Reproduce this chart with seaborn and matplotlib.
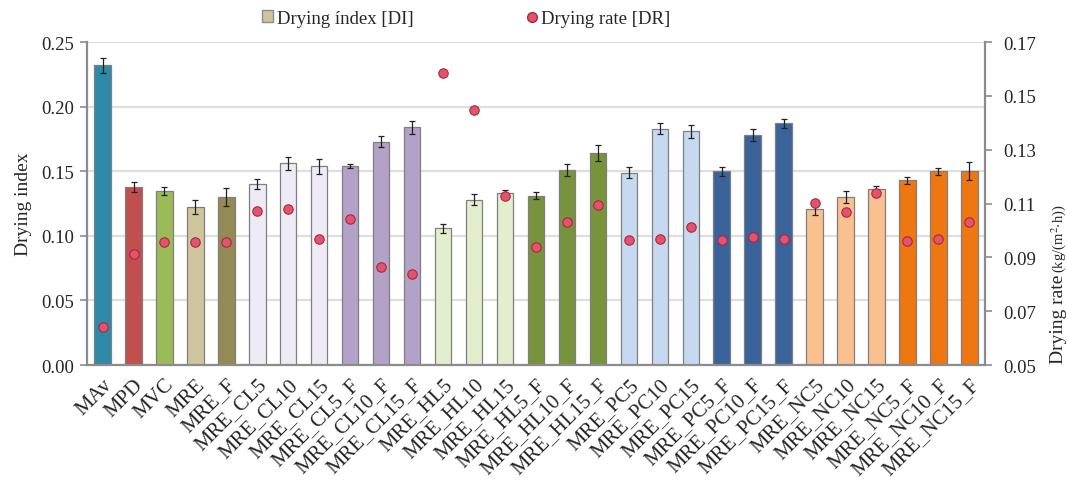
import numpy as np
import matplotlib
matplotlib.use("Agg")
import matplotlib.pyplot as plt
import seaborn as sns
from matplotlib.patches import Patch
from matplotlib.lines import Line2D
from matplotlib.ticker import FormatStrFormatter, FixedLocator

categories = ["MAv", "MPD", "MVC", "MRE", "MRE_F",
              "MRE_CL5", "MRE_CL10", "MRE_CL15", "MRE_CL5_F", "MRE_CL10_F", "MRE_CL15_F",
              "MRE_HL5", "MRE_HL10", "MRE_HL15", "MRE_HL5_F", "MRE_HL10_F", "MRE_HL15_F",
              "MRE_PC5", "MRE_PC10", "MRE_PC15", "MRE_PC5_F", "MRE_PC10_F", "MRE_PC15_F",
              "MRE_NC5", "MRE_NC10", "MRE_NC15", "MRE_NC5_F", "MRE_NC10_F", "MRE_NC15_F"]

drying_index = [0.232, 0.138, 0.135, 0.122, 0.130,
                0.140, 0.156, 0.154, 0.154, 0.173, 0.184,
                0.106, 0.128, 0.133, 0.131, 0.151, 0.164,
                0.149, 0.183, 0.181, 0.150, 0.178, 0.187,
                0.121, 0.130, 0.136, 0.143, 0.150, 0.150]

di_error = [0.0058, 0.0039, 0.0031, 0.0054, 0.0070,
            0.0040, 0.0048, 0.0058, 0.0015, 0.0041, 0.0050,
            0.0035, 0.0045, 0.0023, 0.0028, 0.0049, 0.0062,
            0.0046, 0.0043, 0.0049, 0.0035, 0.0045, 0.0037,
            0.0052, 0.0045, 0.0022, 0.0028, 0.0028, 0.0070]

drying_rate = [0.0640, 0.0912, 0.0957, 0.0957, 0.0958,
               0.1073, 0.1078, 0.0967, 0.1042, 0.0863, 0.0838,
               0.1584, 0.1448, 0.1128, 0.0937, 0.1031, 0.1093,
               0.0964, 0.0969, 0.1013, 0.0965, 0.0977, 0.0969,
               0.1102, 0.1067, 0.1139, 0.0962, 0.0969, 0.1032]

left_ticks = [0.00, 0.05, 0.10, 0.15, 0.20, 0.25]
right_ticks = [0.05, 0.07, 0.09, 0.11, 0.13, 0.15, 0.17]

bar_colors = ["#2E8AA8", "#C0504D", "#9BBB59", "#CFC59D", "#948A54",
              "#EEEBF5", "#EEEBF5", "#EEEBF5", "#B3A2C7", "#B3A2C7", "#B3A2C7",
              "#E2EECD", "#E2EECD", "#E2EECD", "#77933C", "#77933C", "#77933C",
              "#C6D9F0", "#C6D9F0", "#C6D9F0", "#3A639A", "#3A639A", "#3A639A",
              "#FAC090", "#FAC090", "#FAC090", "#EE7712", "#EE7712", "#EE7712"]

sns.set_style("white")
plt.rcParams['font.family'] = ['Liberation Serif', 'DejaVu Serif']
plt.rcParams['mathtext.fontset'] = 'stix'

fig = plt.figure(figsize=(10.67, 4.89), dpi=100)
ax = fig.add_axes([0.0816, 0.2515, 0.923 - 0.0816, 0.912 - 0.2515])

n = len(categories)
x = np.arange(n)
sns.barplot(x=categories, y=drying_index, hue=categories, palette=bar_colors,
            legend=False, width=0.53, edgecolor="#7F7F7F", linewidth=0.9,
            saturation=1, ax=ax, zorder=2)
ax.errorbar(x, drying_index, yerr=di_error, fmt="none", ecolor="#222222",
            elinewidth=0.9, capsize=2.2, capthick=0.9, zorder=3)

ax.set_xlim(-0.5, n - 0.5)
ax.set_ylim(0, 0.25)
ax.yaxis.set_major_locator(FixedLocator(left_ticks))
ax.yaxis.set_major_formatter(FormatStrFormatter("%.2f"))
ax.grid(axis="y", color="#DEDEDE", linewidth=1.6, zorder=0)
ax.set_axisbelow(True)

ax.set_xticks(x)
ax.set_xticklabels(categories, rotation=45, ha="right", rotation_mode="anchor", fontsize=15)
ax.xaxis.set_minor_locator(FixedLocator(np.arange(-0.5, n, 1.0)))
ax.tick_params(axis="x", which="major", length=0, pad=7)
ax.tick_params(axis="x", which="minor", length=4, width=1.2, color="#8C8C8C", direction="out")
ax.tick_params(axis="y", which="major", length=5, width=1.2, color="#8C8C8C",
               direction="out", labelsize=13.5, left=True, pad=4)
ax.set_xlabel("")
ax.set_ylabel("Drying index", fontsize=14, labelpad=7)

for side in ["top", "right"]:
    ax.spines[side].set_visible(False)
for side in ["left", "bottom"]:
    ax.spines[side].set_color("#8C8C8C")
    ax.spines[side].set_linewidth(1.6)

ax2 = ax.twinx()
sns.scatterplot(x=x, y=drying_rate, ax=ax2, color="#E2546E", edgecolor="#A8283F",
                linewidth=0.8, s=46, zorder=4, legend=False)
ax2.set_ylim(0.05, 0.17)
ax2.set_xlim(-0.5, n - 0.5)
ax2.yaxis.set_major_locator(FixedLocator(right_ticks))
ax2.yaxis.set_major_formatter(FormatStrFormatter("%.2f"))
ax2.tick_params(axis="y", length=5, width=1.2, color="#8C8C8C", direction="out",
                labelsize=13.5, right=True, pad=8)
ax2.set_ylabel("")
ax2.grid(False)
for side in ["top", "left", "bottom"]:
    ax2.spines[side].set_visible(False)
ax2.spines["right"].set_color("#8C8C8C")
ax2.spines["right"].set_linewidth(1.6)

# right axis label: big text + smaller unit
fig.canvas.draw()
renderer = fig.canvas.get_renderer()
xb = 1063 / 1067
t1 = fig.text(xb, 1 - 364 / 489, "Drying rate", rotation=90, rotation_mode="anchor",
              ha="left", va="baseline", fontsize=14)
bb = t1.get_window_extent(renderer)
y_top = bb.y1 / fig.bbox.height
fig.text(xb, y_top + 0.004, r"(kg/(m$^{2}$$\cdot$h))", rotation=90, rotation_mode="anchor",
         ha="left", va="baseline", fontsize=10.5)

handles = [Patch(facecolor="#CFC59D", edgecolor="#8C8C8C", label="Drying índex [DI]"),
           Line2D([0], [0], marker="o", linestyle="none", markerfacecolor="#E2546E",
                  markeredgecolor="#A8283F", markersize=7, label="Drying rate [DR]")]
fig.legend(handles=handles, loc="upper center", bbox_to_anchor=(0.437, 1.012), ncol=2,
           frameon=False, fontsize=13.5, columnspacing=6.0, handlelength=0.6,
           handletextpad=0.2, handleheight=0.6)

fig.savefig("out.png", dpi=100)
